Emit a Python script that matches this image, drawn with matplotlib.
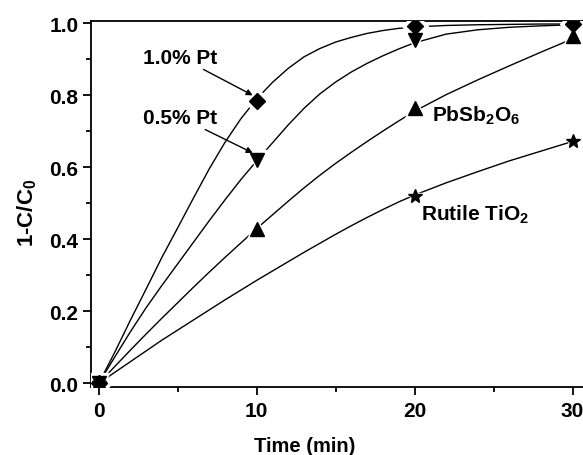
import matplotlib
matplotlib.use('Agg')
import matplotlib.pyplot as plt

plt.rcParams['font.family'] = ['Liberation Sans', 'DejaVu Sans']
plt.rcParams['font.weight'] = 'bold'
plt.rcParams['mathtext.fontset'] = 'custom'
plt.rcParams['mathtext.rm'] = 'Liberation Sans:bold'
plt.rcParams['mathtext.it'] = 'Liberation Sans:bold'
plt.rcParams['mathtext.bf'] = 'Liberation Sans:bold'
plt.rcParams['mathtext.default'] = 'rm'

# measured points
t_pt10 = [0, 10, 20, 30]
pt10 = [0, 0.785, 0.992, 0.998]
t_pt05 = [0, 10, 20, 30]
pt05 = [0, 0.62, 0.953, 0.995]
t_pb = [0, 10, 20, 30]
pb = [0, 0.43, 0.766, 0.966]
t_ti = [0, 20, 30]
ti = [0, 0.521, 0.674]

# fitted curves
t_fit = [0, 1, 2, 3, 4, 5, 6, 7, 8, 9, 10, 11, 12, 13, 14, 15, 16, 17, 18, 19, 20,
         22, 24, 26, 28, 30]
fit_pt10 = [0, 0.085, 0.175, 0.262, 0.35, 0.432, 0.515, 0.596, 0.67, 0.735, 0.79,
            0.836, 0.875, 0.907, 0.93, 0.948, 0.961, 0.972, 0.98, 0.986, 0.99,
            0.994, 0.996, 0.997, 0.998, 0.998]
fit_pt05 = [0, 0.072, 0.143, 0.21, 0.272, 0.332, 0.392, 0.452, 0.51, 0.566, 0.618,
            0.668, 0.718, 0.764, 0.804, 0.837, 0.865, 0.889, 0.91, 0.929, 0.946,
            0.97, 0.982, 0.989, 0.993, 0.996]
fit_pb = [0, 0.046, 0.092, 0.137, 0.181, 0.224, 0.267, 0.309, 0.35, 0.39, 0.43,
          0.468, 0.506, 0.543, 0.578, 0.611, 0.642, 0.672, 0.701, 0.729, 0.756,
          0.802, 0.843, 0.882, 0.92, 0.957]
fit_ti = [0, 0.03, 0.06, 0.09, 0.12, 0.148, 0.176, 0.204, 0.232, 0.259, 0.286,
          0.312, 0.338, 0.364, 0.389, 0.414, 0.438, 0.461, 0.483, 0.504, 0.523,
          0.557, 0.588, 0.618, 0.645, 0.672]

fig = plt.figure(figsize=(5.83, 4.56), dpi=100)
ax = fig.add_axes([91/583, 68.3/456, 499/583, 366.2/456])

for f in [fit_pt10, fit_pt05, fit_pb, fit_ti]:
    ax.plot(t_fit, f, '-', color='black', lw=1.0, zorder=2)

series = [(t_pt10, pt10, 'D', 8), (t_pt05, pt05, 'v', 9.5),
          (t_pb, pb, '^', 9.5), (t_ti, ti, '*', 10)]
for t, v, m, s in series:
    ax.plot(t, v, ls='none', marker=m, ms=s + 5, color='white', mec='white', zorder=3)
for t, v, m, s in series:
    ax.plot(t, v, ls='none', marker=m, ms=s, color='black', mec='black', zorder=4)

arrow = dict(arrowstyle='-|>', color='black', lw=1, mutation_scale=9,
             shrinkA=0, shrinkB=0)
ax.annotate('1.0% Pt', xy=(9.75, 0.80), xytext=(7.5, 0.906), ha='right', va='center',
            fontsize=15, fontweight='bold', arrowprops=arrow)
ax.annotate('0.5% Pt', xy=(9.75, 0.64), xytext=(7.5, 0.739), ha='right', va='center',
            fontsize=15, fontweight='bold', arrowprops=arrow)
ax.text(21.1, 0.745, 'PbSb$_2$O$_6$', fontsize=15, fontweight='bold', va='center')
ax.text(20.4, 0.472, 'Rutile TiO$_2$', fontsize=15, fontweight='bold', va='center')

ax.set_xlim(-0.49, 31.1)
ax.set_ylim(-0.0094, 1.0078)
ax.set_xticks([0, 10, 20, 30])
ax.set_xticks([5, 15, 25], minor=True)
ax.set_yticks([0, 0.2, 0.4, 0.6, 0.8, 1.0])
ax.set_yticks([0.1, 0.3, 0.5, 0.7, 0.9], minor=True)
ax.set_yticklabels(['0.0', '0.2', '0.4', '0.6', '0.8', '1.0'])
ax.tick_params(which='major', direction='out', length=6, width=1.3, labelsize=15, pad=3)
ax.tick_params(which='minor', direction='out', length=3.5, width=1.3)
ax.tick_params(axis='x', which='major', pad=4)
for sp in ['left', 'bottom', 'top']:
    ax.spines[sp].set_linewidth(1.3)
ax.spines['right'].set_visible(False)

ax.set_xlabel('Time (min)', fontsize=14.5, fontweight='bold')
ax.set_ylabel('1-C/C$_0$', fontsize=16, fontweight='bold')
ax.xaxis.set_label_coords(0.429, -0.134)
ax.yaxis.set_label_coords(-0.105, 0.477)

fig.savefig('out.png', dpi=100)
